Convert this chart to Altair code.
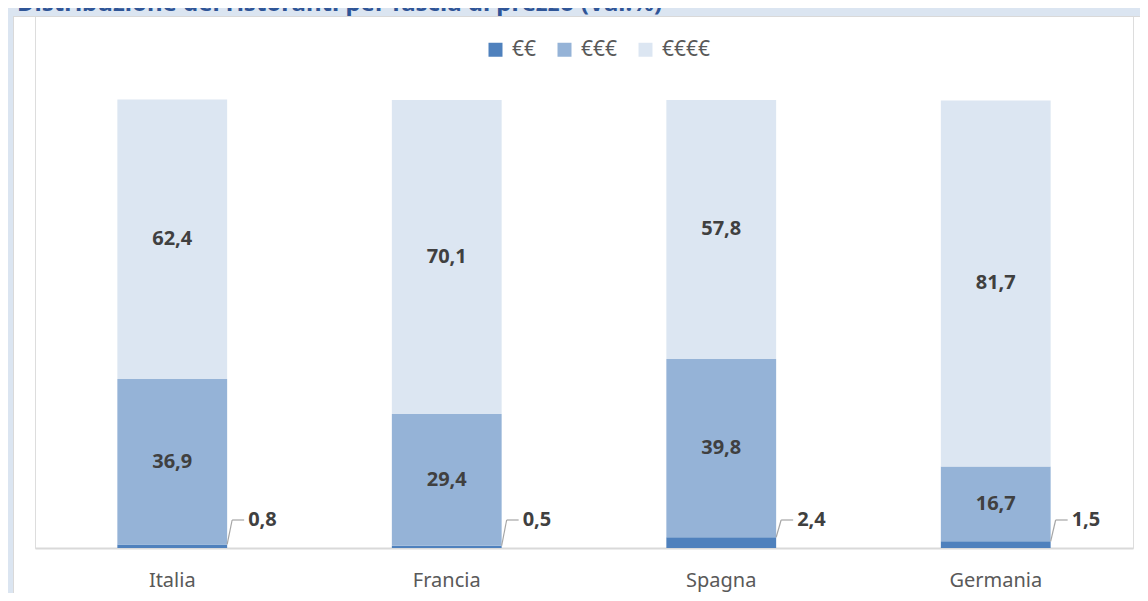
import altair as alt
import pandas as pd

countries = ["Italia", "Francia", "Spagna", "Germania"]
tiers = ["€€", "€€€", "€€€€"]
v_low = [0.8, 0.5, 2.4, 1.5]
v_mid = [36.9, 29.4, 39.8, 16.7]
v_high = [62.4, 70.1, 57.8, 81.7]
colors = ["#4f81bd", "#95b3d7", "#dce6f2"]
title_text = "Distribuzione dei ristoranti per fascia di prezzo (Val.%)"

rows = []
for i, c in enumerate(countries):
    for j, (t, vals) in enumerate(zip(tiers, [v_low, v_mid, v_high])):
        rows.append({"paese": c, "fascia": t, "ord": j, "valore": vals[i],
                     "label": f"{vals[i]:.1f}".replace(".", ",")})
df = pd.DataFrame(rows)

FONT = "Noto Sans"
LABEL_Y = 512

x_scale = alt.Scale(domain=countries, paddingInner=0.6, paddingOuter=0.3)
y_scale = alt.Scale(domain=[0, 120.54], nice=False, zero=True)

base = alt.Chart(df).transform_stack(
    stack="valore", groupby=["paese"], sort=[alt.SortField("ord", order="ascending")],
    as_=["y0", "y1"]
).transform_calculate(mid="(datum.y0 + datum.y1) / 2")

bars = base.mark_bar().encode(
    x=alt.X("paese:N", scale=x_scale, sort=countries,
            axis=alt.Axis(title=None, labelAngle=0, labelFontSize=20, labelColor="#595959",
                          labelFont=FONT, domainColor="#d9d9d9", domainWidth=2,
                          ticks=False, labelPadding=22)),
    y=alt.Y("y0:Q", scale=y_scale, axis=None),
    y2="y1:Q",
    color=alt.Color("fascia:N", scale=alt.Scale(domain=tiers, range=colors),
                    legend=alt.Legend(orient="none", legendX=450, legendY=31,
                                      direction="horizontal", title=None,
                                      symbolType="square", symbolSize=196,
                                      symbolStrokeWidth=0,
                                      labelFontSize=21, labelFont=FONT,
                                      labelColor="#595959", columnPadding=17,
                                      labelOffset=6)),
)

inside = base.transform_filter("datum.ord > 0").mark_text(
    font=FONT, fontSize=20, fontWeight="bold", color="#404040", baseline="middle"
).encode(
    x=alt.X("paese:N", scale=x_scale, sort=countries),
    y=alt.Y("mid:Q", scale=y_scale),
    text="label:N",
)

small = alt.Chart(df).transform_filter("datum.ord == 0")

outside = small.mark_text(
    font=FONT, fontSize=20, fontWeight="bold", color="#404040", baseline="middle",
    align="left", dx=21
).encode(
    x=alt.X("paese:N", scale=x_scale, sort=countries, bandPosition=1),
    y=alt.value(LABEL_Y),
    text="label:N",
)

leader1 = small.mark_rule(color="#a6a6a6", strokeWidth=1.2, x2Offset=5).encode(
    x=alt.X("paese:N", scale=x_scale, sort=countries, bandPosition=1),
    x2=alt.X2("paese", bandPosition=1),
    y=alt.Y("valore:Q", scale=y_scale),
    y2=alt.value(LABEL_Y),
)
leader2 = small.mark_rule(color="#a6a6a6", strokeWidth=1.2, xOffset=5, x2Offset=17).encode(
    x=alt.X("paese:N", scale=x_scale, sort=countries, bandPosition=1),
    x2=alt.X2("paese", bandPosition=1),
    y=alt.value(LABEL_Y),
)

one = alt.Chart(alt.Data(values=[{"t": title_text}]))
top_band = one.mark_rect(color="#dbe5f1").encode(
    x=alt.value(-27), x2=alt.value(1105), y=alt.value(0), y2=alt.value(8))
left_band = one.mark_rect(color="#dbe5f1").encode(
    x=alt.value(-27), x2=alt.value(-22), y=alt.value(0), y2=alt.value(585))
top_border = one.mark_rule(color="#d9d9d9", strokeWidth=1).encode(
    x=alt.value(-22), x2=alt.value(1105), y=alt.value(8.5))
left_border = one.mark_rule(color="#d9d9d9", strokeWidth=1).encode(
    x=alt.value(-21.5), y=alt.value(8), y2=alt.value(585))
title = one.mark_text(font=FONT, fontSize=24, fontWeight="bold", color="#2f5597",
                      align="left", baseline="alphabetic").encode(
    x=alt.value(-18), y=alt.value(3), text="t:N")

chart = alt.layer(top_band, left_band, title, top_border, left_border, bars, inside,
                  leader1, leader2, outside).properties(
    width=1098, height=540,
    autosize=alt.AutoSizeParams(type="none"),
    padding={"left": 27, "top": 0, "right": 7, "bottom": 45},
).configure_view(stroke=None).configure(background="white")

chart.save("out.html", embed_options={"renderer": "svg", "actions": False})
